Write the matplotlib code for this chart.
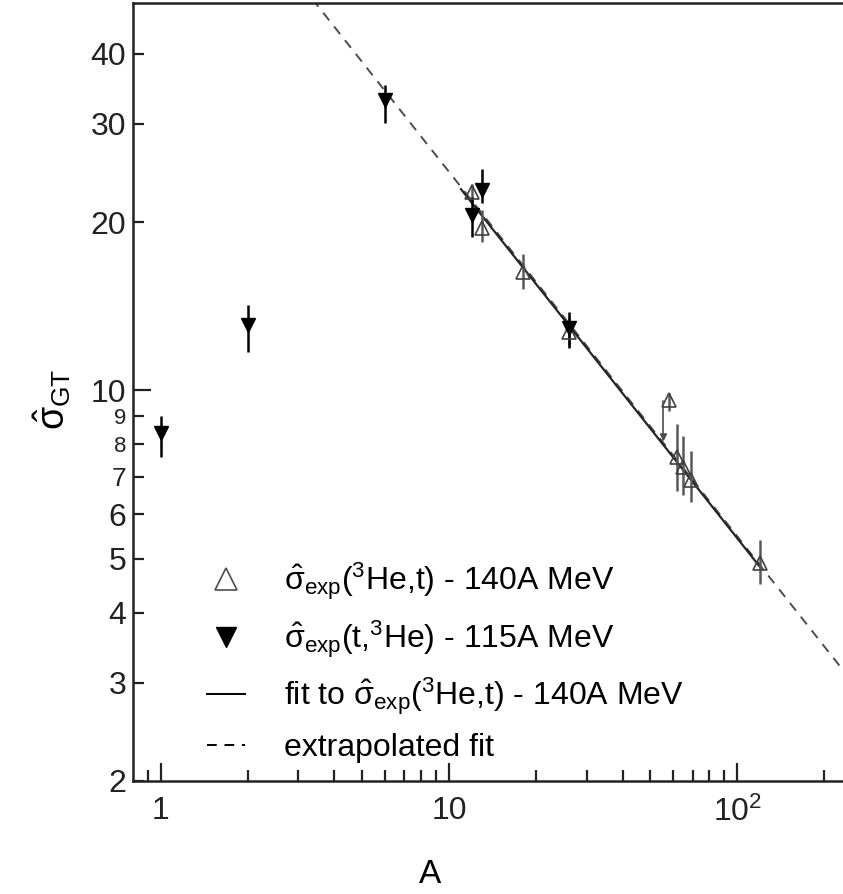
import matplotlib
matplotlib.use("Agg")
import matplotlib.pyplot as plt
from matplotlib.lines import Line2D
import numpy as np

plt.rcParams['font.family'] = ['Liberation Sans', 'DejaVu Sans']
plt.rcParams['mathtext.fontset'] = 'custom'
plt.rcParams['mathtext.rm'] = 'Liberation Sans'
plt.rcParams['mathtext.it'] = 'Liberation Sans:italic'
plt.rcParams['mathtext.bf'] = 'Liberation Sans:bold'

# (3He,t) at 140A MeV - open triangles
A_he = [12, 13, 18, 26, 58, 62, 65, 69, 120]
sig_he = [22.6, 19.5, 16.3, 12.7, 9.6, 7.6, 7.3, 6.9, 4.9]
lo_he = [21.8, 18.4, 15.2, 12.0, 9.2, 6.6, 6.5, 6.3, 4.5]
hi_he = [23.4, 21.0, 17.5, 13.5, 9.9, 8.7, 8.3, 7.8, 5.4]

# (t,3He) at 115A MeV - filled triangles
A_t = [1, 2, 6, 12, 13, 26]
sig_t = [8.4, 13.1, 33.0, 20.6, 22.8, 12.9]
lo_t = [7.6, 11.7, 30.1, 18.8, 21.6, 11.9]
hi_t = [9.0, 14.2, 35.2, 22.2, 24.9, 13.8]

# fit line end points
fit_A = [11, 120]
fit_sig = [22.9, 4.83]
ext_A = [3.0, 260]
ext_sig = [53.9, 2.94]

# shifted point at A~58 (arrow)
arrow_from = (58, 9.6)
arrow_to = (55.5, 8.1)

fig = plt.figure(figsize=(8.43, 8.94), dpi=100)
ax = fig.add_axes([133 / 843, 113 / 894, 710 / 843, 778 / 894])

ax.plot(ext_A, ext_sig, color='0.3', lw=1.4, dashes=(5, 4))
ax.plot(fit_A, fit_sig, color='0.15', lw=1.6)

A_he = np.array(A_he)
sig_he = np.array(sig_he)
A_t = np.array(A_t)
sig_t = np.array(sig_t)

ax.errorbar(A_he, sig_he, yerr=[sig_he - np.array(lo_he), np.array(hi_he) - sig_he],
            fmt='^', ms=10, mfc='none', mec='0.25', mew=1.2,
            ecolor='0.35', elinewidth=1.8, capsize=0)
ax.errorbar(A_t, sig_t, yerr=[sig_t - np.array(lo_t), np.array(hi_t) - sig_t],
            fmt='v', ms=10, mfc='black', mec='black',
            ecolor='black', elinewidth=1.8, capsize=0)

ax.annotate('', xy=arrow_to, xytext=arrow_from,
            arrowprops=dict(arrowstyle='-|>', color='0.3', lw=1.2,
                            mutation_scale=10,
                            connectionstyle='angle,angleA=180,angleB=90,rad=0',
                            shrinkA=4, shrinkB=0))

ax.set_xscale('log')
ax.set_yscale('log')
ax.set_xlim(0.8, 233)
ax.set_ylim(2, 49.3)

ax.set_xticks([1, 10, 100], ['1', '10', r'$10^2$'])
ax.set_xticks([0.9] + list(range(2, 10)) + list(range(20, 100, 10)) + [200], minor=True)
ax.xaxis.set_minor_formatter(plt.NullFormatter())

ax.set_yticks([10], ['10'])
ymin = [2, 3, 4, 5, 6, 7, 8, 9, 20, 30, 40]
ax.set_yticks(ymin, [str(v) for v in ymin], minor=True)

ax.tick_params(which='both', direction='in', labelsize=23, colors='#222222', width=1.6)
ax.tick_params(which='major', length=13)
ax.tick_params(which='minor', length=8)
ax.tick_params(axis='x', which='both', pad=11)
ax.tick_params(axis='y', which='both', pad=5)

# the 7, 8, 9 labels are squeezed in the original
for lab in ax.yaxis.get_minorticklabels():
    if lab.get_text() in ('8', '9'):
        lab.set_fontsize(16)
    elif lab.get_text() == '7':
        lab.set_fontsize(19)

for s in ['left', 'bottom', 'top']:
    ax.spines[s].set_linewidth(1.8)
    ax.spines[s].set_color('#222222')
ax.spines['right'].set_visible(False)

ax.set_xlabel('A', fontsize=24)
ax.set_ylabel(r'$\hat{\mathrm{\sigma}}_{\mathrm{GT}}$', fontsize=27)
ax.xaxis.set_label_coords(0.418, -0.1)
ax.yaxis.set_label_coords(-0.085, 0.49)

handles = [
    Line2D([], [], marker='^', ls='none', ms=16, mfc='none', mec='0.3', mew=1.2),
    Line2D([], [], marker='v', ls='none', ms=14, mfc='black', mec='black'),
    Line2D([], [], color='black', lw=1.4),
    Line2D([], [], color='black', lw=1.4, dashes=(5, 4)),
]
labels = [
    r'$\hat{\mathrm{\sigma}}_{\mathrm{exp}}$($^3$He,t) - 140A MeV',
    r'$\hat{\mathrm{\sigma}}_{\mathrm{exp}}$(t,$^3$He) - 115A MeV',
    r'fit to $\hat{\mathrm{\sigma}}_{\mathrm{exp}}$($^3$He,t) - 140A MeV',
    'extrapolated fit',
]
ax.legend(handles, labels, loc='upper left', bbox_to_anchor=(0.104, 0.283),
          frameon=False, fontsize=23, handlelength=1.2, handletextpad=1.2,
          labelspacing=0.5, borderpad=0, borderaxespad=0)

fig.savefig('out.png', dpi=100)
